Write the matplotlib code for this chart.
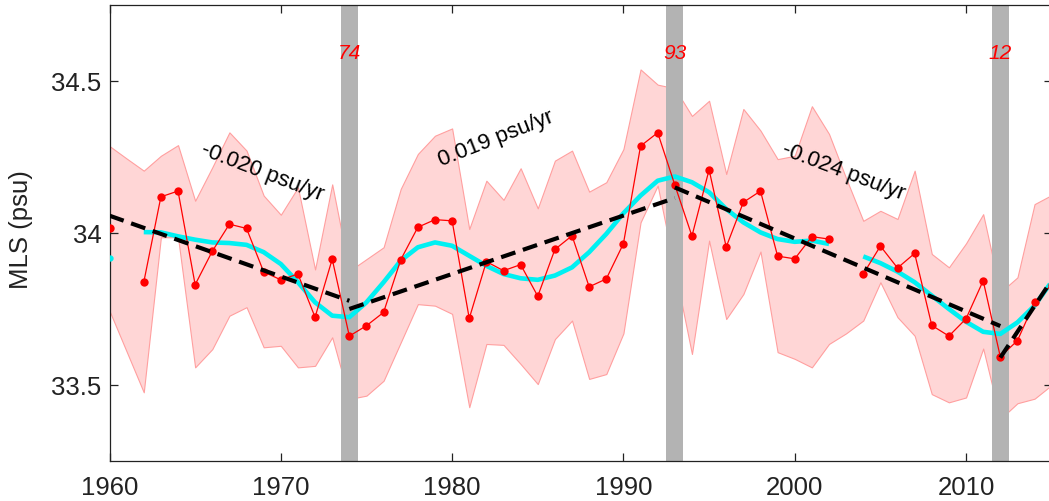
import numpy as np
import matplotlib
matplotlib.use("Agg")
import matplotlib.pyplot as plt

plt.rcParams['font.family'] = ['Liberation Sans', 'DejaVu Sans']

# ---------------- data ----------------
years = np.arange(1960, 2016)

mls = [34.015, np.nan, 33.838, 34.119, 34.138, 33.830, 33.940, 34.029, 34.015, 33.872,
       33.846, 33.865, 33.723, 33.914, 33.661, 33.695, 33.739, 33.912, 34.019, 34.044,
       34.040, 33.719, 33.906, 33.876, 33.896, 33.792, 33.946, 33.991, 33.823, 33.849,
       33.965, 34.286, 34.330, 34.158, 33.990, 34.208, 33.954, 34.101, 34.138, 33.924,
       33.915, 33.988, 33.980, np.nan, 33.865, 33.957, 33.885, 33.933, 33.696, 33.661,
       33.718, 33.843, 33.593, 33.646, 33.772, 33.830]

upper = [34.286, 34.245, 34.205, 34.254, 34.289, 34.106, 34.216, 34.331, 34.271, 34.123,
         34.060, 34.150, 33.880, 34.160, 33.875, 33.914, 33.953, 34.145, 34.260, 34.320,
         34.344, 34.013, 34.172, 34.109, 34.213, 34.081, 34.238, 34.271, 34.136, 34.167,
         34.276, 34.538, 34.488, 34.476, 34.385, 34.435, 34.194, 34.408, 34.337, 34.243,
         34.254, 34.417, 34.326, 34.180, 34.040, 34.073, 34.046, 34.205, 33.931, 33.887,
         33.966, 34.062, 33.805, 33.854, 34.095, 34.125]

lower = [33.744, 33.610, 33.476, 33.986, 33.986, 33.558, 33.618, 33.728, 33.756, 33.624,
         33.629, 33.558, 33.563, 33.657, 33.454, 33.465, 33.514, 33.640, 33.766, 33.761,
         33.734, 33.427, 33.635, 33.632, 33.569, 33.503, 33.651, 33.712, 33.520, 33.536,
         33.670, 34.035, 34.156, 33.879, 33.602, 33.975, 33.717, 33.799, 33.939, 33.608,
         33.586, 33.558, 33.635, 33.670, 33.712, 33.838, 33.723, 33.662, 33.470, 33.443,
         33.459, 33.620, 33.388, 33.440, 33.455, 33.500]

smooth = [33.918, np.nan, 34.003, 34.002, 33.989, 33.978, 33.969, 33.967, 33.961, 33.937,
          33.898, 33.838, 33.772, 33.728, 33.723, 33.772, 33.838, 33.909, 33.953, 33.969,
          33.958, 33.925, 33.892, 33.865, 33.851, 33.846, 33.860, 33.887, 33.937, 33.997,
          34.065, 34.123, 34.172, 34.186, 34.167, 34.134, 34.079, 34.035, 34.002, 33.980,
          33.971, 33.975, 33.964, np.nan, 33.923, 33.901, 33.873, 33.838, 33.794, 33.750,
          33.708, 33.675, 33.668, 33.706, 33.761, 33.840]

# trend segments: (start year, end year, start value, end value)
trend_start_years = [1960, 1974, 1993, 2012]
trend_end_years = [1974, 1993, 2012, 2015]
trend_start_vals = [34.057, 33.750, 34.150, 33.590]
trend_end_vals = [33.777, 34.115, 33.694, 33.845]

trend_labels = ["-0.020 psu/yr", "0.019 psu/yr", "-0.024 psu/yr"]
trend_label_x = [1968.93, 1982.56, 2002.85]
trend_label_y = [34.204, 34.312, 34.204]
trend_label_rot = [-21.0, 21.5, -20.6]

event_years = [1974, 1993, 2012]
event_labels = ["74", "93", "12"]
event_label_y = 34.595

xticks = [1960, 1970, 1980, 1990, 2000, 2010]
yticks = [33.5, 34.0, 34.5]
ytick_labels = ["33.5", "34", "34.5"]

# ---------------- figure ----------------
W, H = 1049, 502
fig = plt.figure(figsize=(W / 100, H / 100), dpi=100)
ax = fig.add_axes([109.5 / W, 40 / H, (1051.7 - 109.5) / W, 456 / H])

ax.fill_between(years, lower, upper, facecolor='#ffd6d6', edgecolor='#ff9f9f',
                linewidth=0.8, zorder=1)

for ey in event_years:
    ax.axvspan(ey - 0.5, ey + 0.5, color='#b3b3b3', lw=0, zorder=2)

ax.plot(years, smooth, color='#00f0f2', lw=3.3, zorder=3, solid_capstyle='butt',
        marker='o', markersize=3.5, markevery=[0])

ax.plot(years, mls, color='red', lw=0.9, marker='o', markersize=6,
        markeredgewidth=0, zorder=4)

for x0, x1, y0, y1 in zip(trend_start_years, trend_end_years, trend_start_vals, trend_end_vals):
    ax.plot([x0, x1], [y0, y1], color='black', lw=3.0, dashes=(3.6, 1.9),
            dash_capstyle='butt', zorder=5)

for t, x, y, r in zip(trend_labels, trend_label_x, trend_label_y, trend_label_rot):
    ax.text(x, y, t, rotation=r, rotation_mode='anchor', ha='center', va='center',
            fontsize=16, color='black', zorder=6)

for ey, lab in zip(event_years, event_labels):
    ax.text(ey, event_label_y, lab, color='red', fontstyle='italic', fontsize=15,
            ha='center', va='center', zorder=6)

ax.set_xlim(1960, 2015)
ax.set_ylim(33.25, 34.75)
ax.set_xticks(xticks)
ax.set_xticklabels([str(x) for x in xticks])
ax.set_yticks(yticks)
ax.set_yticklabels(ytick_labels)

ax.tick_params(axis='both', direction='in', length=5.8, width=0.9, colors='#222222',
               labelsize=18.5, top=True, right=True)
ax.tick_params(axis='x', pad=10.4)
ax.tick_params(axis='y', pad=5.8)
for sp in ax.spines.values():
    sp.set_linewidth(0.9)
    sp.set_color('#222222')

ax.set_ylabel("MLS (psu)", fontsize=18.5, color='#222222', va='center')
ax.yaxis.set_label_coords(-0.0935, 0.51)

fig.savefig('out.png', dpi=100)
